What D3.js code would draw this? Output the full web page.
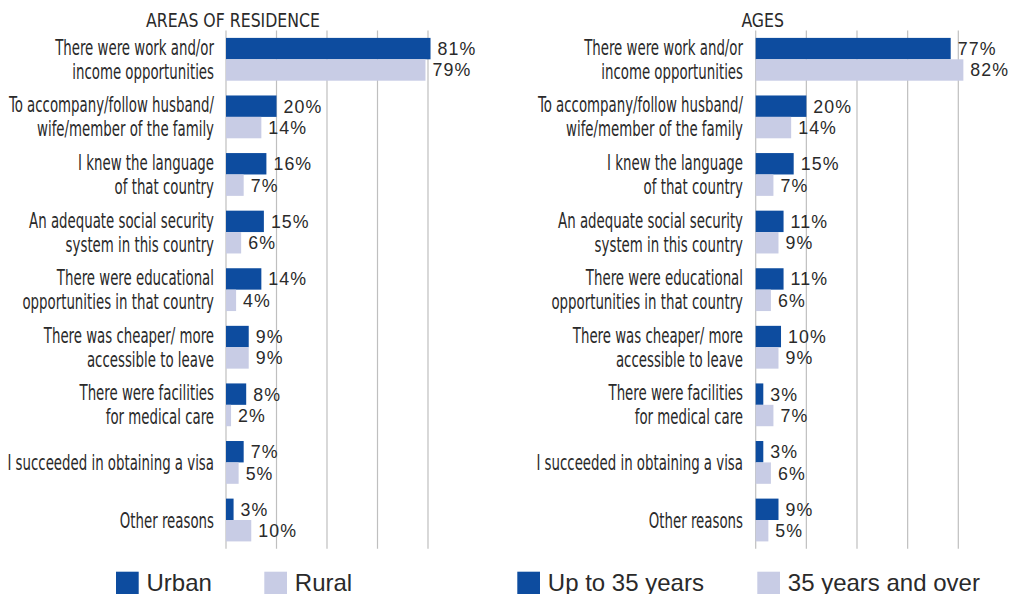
<!DOCTYPE html>
<html>
<head>
<meta charset="utf-8">
<script src="https://cdn.jsdelivr.net/npm/d3@7"></script>
<style>
  html, body { margin: 0; padding: 0; background: #ffffff; }
  svg { display: block; }
  .cond { font-family: "Liberation Sans Narrow", "DejaVu Sans Condensed", "Liberation Sans", sans-serif; }
  .val, .leg { font-family: "Liberation Sans", Arial, Helvetica, sans-serif; }
</style>
</head>
<body>
<svg id="chart" width="1011" height="594"></svg>
<script>
// Reasons for choosing the destination country, in percent
const categories = [
  ["There were work and/or", "income opportunities"],
  ["To accompany/follow husband/", "wife/member of the family"],
  ["I knew the language", "of that country"],
  ["An adequate social security", "system in this country"],
  ["There were educational", "opportunities in that country"],
  ["There was cheaper/ more", "accessible to leave"],
  ["There were facilities", "for medical care"],
  ["I succeeded in obtaining a visa"],
  ["Other reasons"]
];
const urbanValues = [81, 20, 16, 15, 14, 9, 8, 7, 3];
const ruralValues = [79, 14, 7, 6, 4, 9, 2, 5, 10];
const youngValues = [77, 20, 15, 11, 11, 10, 3, 3, 9];
const olderValues = [82, 14, 7, 9, 6, 9, 7, 6, 5];
const gridTicks = [0, 20, 40, 60, 80];

const panels = [
  { title: "AREAS OF RESIDENCE", series: ["Urban", "Rural"], values: [urbanValues, ruralValues],
    x0: 226, x1: 428, labelX: 214, legend: [116, 264.3] },
  { title: "AGES", series: ["Up to 35 years", "35 years and over"], values: [youngValues, olderValues],
    x0: 755.7, x1: 958.3, labelX: 743, legend: [517.3, 757.3] }
];

const colors = ["#0d4c9f", "#c8cce5"];
const textColor = "#2a2a2a";
const gridColor = "#bfbfbf";

const svg = d3.select("#chart");

// condensed face: squeeze the width so labels read like a condensed grotesque
function measure(str, size) {
  const t = svg.append("text").attr("class", "cond").attr("font-size", size).text(str);
  const w = t.node().getComputedTextLength();
  t.remove();
  return w;
}
const sx = 159 / measure("There were work and/or", 20.5);
const titleSize = 19;
const tsx = 174 / measure("AREAS OF RESIDENCE", titleSize);

const y = d3.scaleBand()
  .domain(d3.range(categories.length))
  .range([30.5, 548.8])
  .padding(0);
const barH = 21.4;

panels.forEach(p => {
  const x = d3.scaleLinear().domain([0, 80]).range([p.x0, p.x1]);
  const g = svg.append("g");

  // vertical gridlines (the 0 line doubles as the axis)
  g.selectAll("line.grid").data(gridTicks).join("line")
    .attr("class", "grid")
    .attr("x1", d => x(d)).attr("x2", d => x(d))
    .attr("y1", y.range()[0]).attr("y2", y.range()[1])
    .attr("stroke", gridColor).attr("stroke-width", 1.2);

  // bars
  p.values.forEach((vals, s) => {
    g.selectAll("rect.s" + s).data(vals).join("rect")
      .attr("class", "s" + s)
      .attr("x", x(0))
      .attr("y", (d, i) => y(i) + y.bandwidth() / 2 - barH + s * barH)
      .attr("width", d => x(d) - x(0))
      .attr("height", barH)
      .attr("fill", colors[s]);
  });

  // value labels
  p.values.forEach((vals, s) => {
    g.selectAll("text.v" + s).data(vals).join("text")
      .attr("class", "val v" + s)
      .attr("x", d => x(d) + 7)
      .attr("y", (d, i) => y(i) + y.bandwidth() / 2 - barH / 2 + s * barH + 6.5)
      .attr("font-size", 17.8)
      .attr("letter-spacing", 1.1)
      .attr("fill", textColor)
      .text(d => d + "%");
  });

  // category labels
  categories.forEach((lines, i) => {
    const cy = y(i) + y.bandwidth() / 2;
    const t = g.append("text")
      .attr("class", "cond")
      .attr("text-anchor", "end")
      .attr("font-size", 20.5)
      .attr("fill", textColor)
      .attr("transform", `translate(${p.labelX},0) scale(${sx},1)`);
    const first = lines.length === 1 ? cy + 7.5 : cy - 4.5;
    lines.forEach((ln, k) => {
      t.append("tspan").attr("x", 0).attr("y", first + k * 24).text(ln);
    });
  });

  // panel title
  svg.append("text")
    .attr("class", "cond")
    .attr("text-anchor", "middle")
    .attr("font-size", titleSize)
    .attr("fill", textColor)
    .attr("transform", `translate(${x(0) + 7},26.7) scale(${tsx},1)`)
    .text(p.title);

  // legend
  p.series.forEach((name, s) => {
    const lx = p.legend[s];
    svg.append("rect")
      .attr("x", lx).attr("y", 571.7)
      .attr("width", 22.7).attr("height", 22.7)
      .attr("fill", colors[s]);
    svg.append("text")
      .attr("class", "leg")
      .attr("x", lx + 30.5).attr("y", 590.7)
      .attr("font-size", 24)
      .attr("fill", textColor)
      .text(name);
  });
});
</script>
</body>
</html>
